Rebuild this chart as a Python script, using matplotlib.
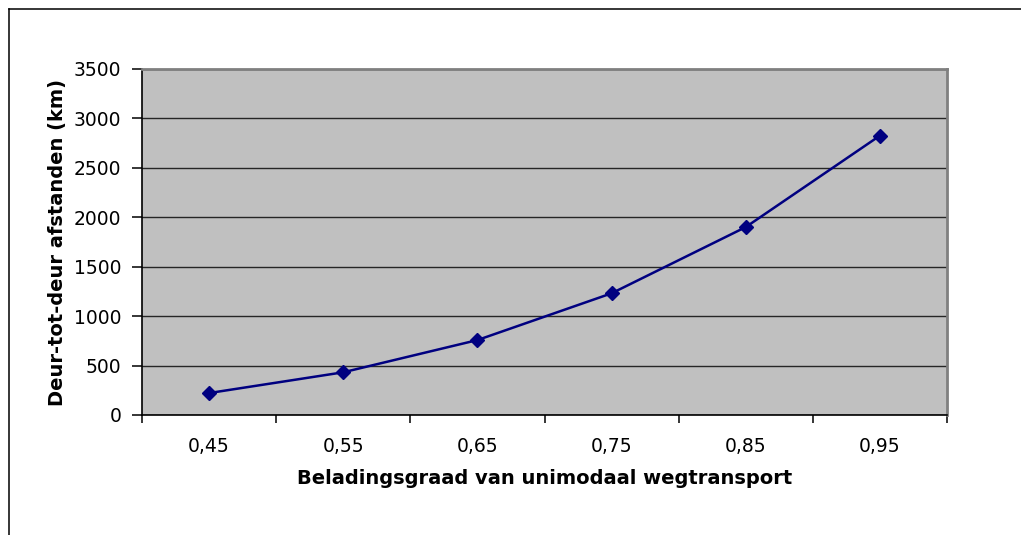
import matplotlib
matplotlib.use("Agg")
import matplotlib.pyplot as plt
from matplotlib.lines import Line2D

# Data
categories = ["0,45", "0,55", "0,65", "0,75", "0,85", "0,95"]
distances = [222, 432, 758, 1231, 1901, 2826]
y_ticks = [0, 500, 1000, 1500, 2000, 2500, 3000, 3500]

plt.rcParams["font.family"] = ["DejaVu Sans"]

W, H = 1021, 535
fig = plt.figure(figsize=(W / 100, H / 100), dpi=100)
fig.patch.set_facecolor("white")

# Outer chart frame (top and left edges visible)
fig.add_artist(Line2D([9 / W, 9 / W], [0, 1 - 9 / H], color="black", lw=1.1))
fig.add_artist(Line2D([9 / W, 1], [1 - 9 / H, 1 - 9 / H], color="black", lw=1.1))

ax = fig.add_axes([142 / W, (H - 415) / H, (947 - 142) / W, (415 - 69) / H])
ax.set_facecolor("#c0c0c0")

x = list(range(len(categories)))
ax.plot(x, distances, color="#000080", lw=1.8, marker="D", markersize=7,
        markerfacecolor="#000080", markeredgecolor="#000080", zorder=3)

ax.set_xlim(-0.5, len(categories) - 0.5)
ax.set_ylim(0, 3500)

ax.set_yticks(y_ticks)
ax.set_yticklabels([str(v) for v in y_ticks], fontsize=13.5)
ax.yaxis.grid(True, color="#262626", lw=1.0)
ax.set_axisbelow(True)

# Category labels centered, tick marks at category boundaries
ax.set_xticks(x)
ax.set_xticklabels(categories, fontsize=13.5)
ax.tick_params(axis="x", which="major", length=0, pad=16)
ax.set_xticks([i - 0.5 for i in range(len(categories) + 1)], minor=True)
ax.tick_params(axis="x", which="minor", length=6, width=1.1, color="black", direction="out")
ax.tick_params(axis="y", length=7, width=1.1, color="black", pad=8)

for side in ("left", "bottom"):
    ax.spines[side].set_color("black")
    ax.spines[side].set_linewidth(1.2)
for side in ("top", "right"):
    ax.spines[side].set_color("#808080")
    ax.spines[side].set_linewidth(2)

ax.set_xlabel("Beladingsgraad van unimodaal wegtransport", fontsize=14,
              fontweight="bold", labelpad=9)
ax.set_ylabel("Deur-tot-deur afstanden (km)", fontsize=14,
              fontweight="bold", labelpad=5)

fig.savefig("out.png", dpi=100)
